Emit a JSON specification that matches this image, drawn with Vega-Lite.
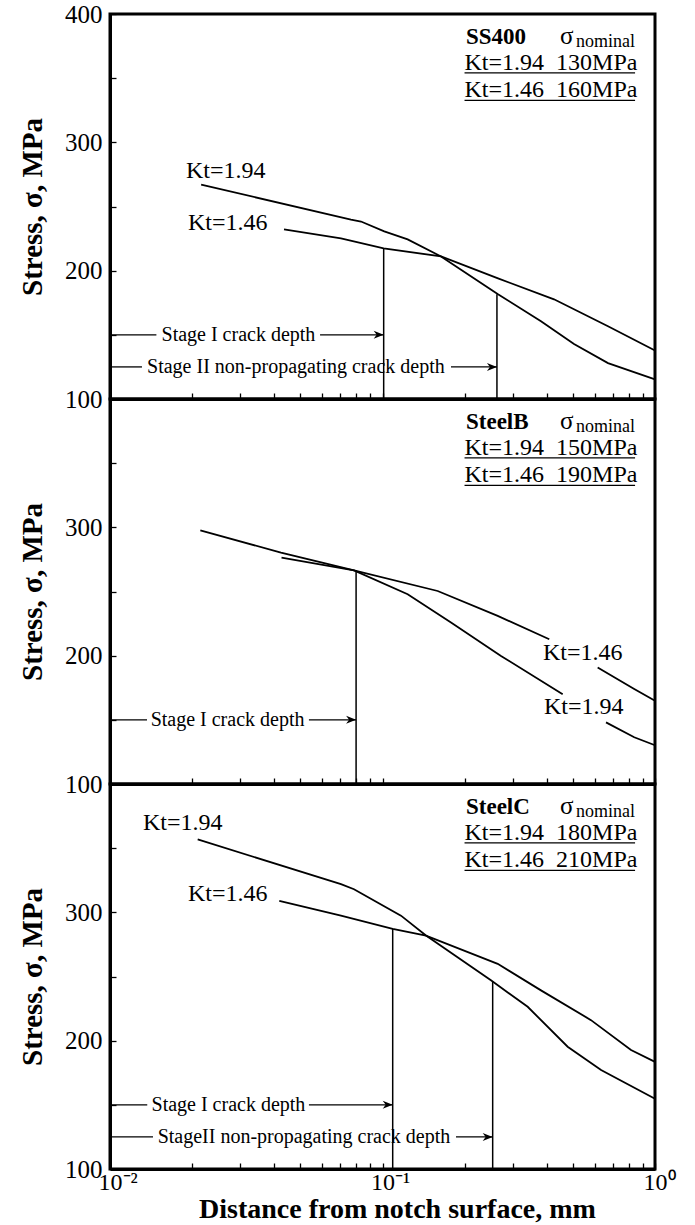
{
  "$schema": "https://vega.github.io/schema/vega-lite/v6.json",
  "background": "white",
  "padding": {"left": 17, "top": 0, "right": 5, "bottom": 0},
  "bounds": "flush",
  "spacing": 0,
  "config": {
    "font": "Liberation Serif",
    "view": {"stroke": "black", "strokeWidth": 3},
    "axis": {"grid": false, "domainColor": "black", "domainWidth": 3, "tickColor": "black", "tickWidth": 1.3, "labelColor": "black", "titleColor": "black", "labelFont": "Liberation Serif", "titleFont": "Liberation Serif", "labelOverlap": false, "labelFlush": false}
  },
  "datasets": {
    "curves": [
      {"panel": 1, "seg": "a194", "x": 0.0216, "y": 267.1},
      {"panel": 1, "seg": "a194", "x": 0.0766, "y": 239.7},
      {"panel": 1, "seg": "a194", "x": 0.0834, "y": 238.3},
      {"panel": 1, "seg": "a194", "x": 0.1015, "y": 230.6},
      {"panel": 1, "seg": "a194", "x": 0.1237, "y": 224.4},
      {"panel": 1, "seg": "a194", "x": 0.164, "y": 211.1},
      {"panel": 1, "seg": "a194", "x": 0.2654, "y": 181.6},
      {"panel": 1, "seg": "a194", "x": 0.3816, "y": 160.6},
      {"panel": 1, "seg": "a194", "x": 0.5044, "y": 142.8},
      {"panel": 1, "seg": "a194", "x": 0.6722, "y": 128},
      {"panel": 1, "seg": "a194", "x": 1.0, "y": 115.3},
      {"panel": 1, "seg": "a146", "x": 0.0435, "y": 232.1},
      {"panel": 1, "seg": "a146", "x": 0.0704, "y": 225.1},
      {"panel": 1, "seg": "a146", "x": 0.101, "y": 217.4},
      {"panel": 1, "seg": "a146", "x": 0.164, "y": 211.1},
      {"panel": 1, "seg": "a146", "x": 0.2654, "y": 194},
      {"panel": 1, "seg": "a146", "x": 0.426, "y": 177.7},
      {"panel": 1, "seg": "a146", "x": 0.6722, "y": 156.7},
      {"panel": 1, "seg": "a146", "x": 1.0, "y": 137.8},
      {"panel": 2, "seg": "a194", "x": 0.02145, "y": 297.7},
      {"panel": 2, "seg": "a194", "x": 0.0424, "y": 280.3},
      {"panel": 2, "seg": "a194", "x": 0.0786, "y": 266.5},
      {"panel": 2, "seg": "a194", "x": 0.1237, "y": 247.9},
      {"panel": 2, "seg": "a194", "x": 0.1784, "y": 225.8},
      {"panel": 2, "seg": "a194", "x": 0.2722, "y": 199.8},
      {"panel": 2, "seg": "a194", "x": 0.4584, "y": 170},
      {"panel": 2, "seg": "b194", "x": 0.661, "y": 148},
      {"panel": 2, "seg": "b194", "x": 0.839, "y": 136.4},
      {"panel": 2, "seg": "b194", "x": 1.0, "y": 130.2},
      {"panel": 2, "seg": "a146", "x": 0.0426, "y": 276.4},
      {"panel": 2, "seg": "a146", "x": 0.0786, "y": 266.5},
      {"panel": 2, "seg": "a146", "x": 0.1594, "y": 250.4},
      {"panel": 2, "seg": "a146", "x": 0.2647, "y": 231},
      {"panel": 2, "seg": "a146", "x": 0.4093, "y": 212.8},
      {"panel": 2, "seg": "b146", "x": 0.616, "y": 190.8},
      {"panel": 2, "seg": "b146", "x": 0.839, "y": 174},
      {"panel": 2, "seg": "b146", "x": 1.0, "y": 164.8},
      {"panel": 3, "seg": "a194", "x": 0.02098, "y": 356.8},
      {"panel": 3, "seg": "a194", "x": 0.0704, "y": 322},
      {"panel": 3, "seg": "a194", "x": 0.0786, "y": 318},
      {"panel": 3, "seg": "a194", "x": 0.1169, "y": 297.4},
      {"panel": 3, "seg": "a194", "x": 0.1444, "y": 281.9},
      {"panel": 3, "seg": "a194", "x": 0.25, "y": 247},
      {"panel": 3, "seg": "a194", "x": 0.341, "y": 226.4},
      {"panel": 3, "seg": "a194", "x": 0.478, "y": 195.3},
      {"panel": 3, "seg": "a194", "x": 0.634, "y": 177.2},
      {"panel": 3, "seg": "a194", "x": 1.0, "y": 154.8},
      {"panel": 3, "seg": "a146", "x": 0.0418, "y": 309},
      {"panel": 3, "seg": "a146", "x": 0.0704, "y": 297.4},
      {"panel": 3, "seg": "a146", "x": 0.109, "y": 287.1},
      {"panel": 3, "seg": "a146", "x": 0.1444, "y": 281.9},
      {"panel": 3, "seg": "a146", "x": 0.2647, "y": 259.9},
      {"panel": 3, "seg": "a146", "x": 0.3816, "y": 239.2},
      {"panel": 3, "seg": "a146", "x": 0.5823, "y": 216},
      {"panel": 3, "seg": "a146", "x": 0.8166, "y": 192.7},
      {"panel": 3, "seg": "a146", "x": 1.0, "y": 183.5}
    ],
    "hrules": [
      {"panel": 1, "x": 0.01, "x2": 0.0148, "y": 150},
      {"panel": 1, "x": 0.059, "x2": 0.101, "y": 150},
      {"panel": 1, "x": 0.01, "x2": 0.0131, "y": 125},
      {"panel": 1, "x": 0.1784, "x2": 0.263, "y": 125},
      {"panel": 2, "x": 0.01, "x2": 0.01367, "y": 150},
      {"panel": 2, "x": 0.0537, "x2": 0.08, "y": 150},
      {"panel": 3, "x": 0.01, "x2": 0.0137, "y": 150},
      {"panel": 3, "x": 0.0537, "x2": 0.109, "y": 150},
      {"panel": 3, "x": 0.01, "x2": 0.01438, "y": 125},
      {"panel": 3, "x": 0.1861, "x2": 0.2537, "y": 125}
    ],
    "vrules": [
      {"panel": 1, "x": 0.101, "y": 100, "y2": 217.4},
      {"panel": 1, "x": 0.263, "y": 100, "y2": 181.6},
      {"panel": 2, "x": 0.08, "y": 100, "y2": 266.5},
      {"panel": 3, "x": 0.109, "y": 100, "y2": 287.1},
      {"panel": 3, "x": 0.2537, "y": 100, "y2": 246}
    ],
    "arrows": [
      {"panel": 1, "x": 0.101, "y": 150},
      {"panel": 1, "x": 0.263, "y": 125},
      {"panel": 2, "x": 0.08, "y": 150},
      {"panel": 3, "x": 0.109, "y": 150},
      {"panel": 3, "x": 0.2537, "y": 125}
    ],
    "ktlabels": [
      {"panel": 1, "x": 0.019, "y": 278, "text": "Kt=1.94"},
      {"panel": 1, "x": 0.01933, "y": 236.8, "text": "Kt=1.46"},
      {"panel": 2, "x": 0.388, "y": 202.3, "text": "Kt=1.46"},
      {"panel": 2, "x": 0.3914, "y": 159.7, "text": "Kt=1.94"},
      {"panel": 3, "x": 0.01322, "y": 369.5, "text": "Kt=1.94"},
      {"panel": 3, "x": 0.01933, "y": 314.2, "text": "Kt=1.46"}
    ],
    "stagelabels": [
      {"panel": 1, "x": 0.0296, "y": 150, "text": "Stage I crack depth"},
      {"panel": 1, "x": 0.0481, "y": 125, "text": "Stage II non-propagating crack depth"},
      {"panel": 2, "x": 0.027, "y": 150, "text": "Stage I crack depth"},
      {"panel": 3, "x": 0.0272, "y": 150, "text": "Stage I crack depth"},
      {"panel": 3, "x": 0.0515, "y": 125, "text": "StageII non-propagating crack depth"}
    ],
    "legend": [
      {"panel": 1, "name": "SS400", "l2": "Kt=1.94\u00a0 130MPa", "l3": "Kt=1.46\u00a0 160MPa"},
      {"panel": 2, "name": "SteelB", "l2": "Kt=1.94\u00a0 150MPa", "l3": "Kt=1.46\u00a0 190MPa"},
      {"panel": 3, "name": "SteelC", "l2": "Kt=1.94\u00a0 180MPa", "l3": "Kt=1.46\u00a0 210MPa"}
    ]
  },
  "vconcat": [
    {
      "width": 545, "height": 385,
      "layer": [
        {"data": {"name": "curves"}, "transform": [{"filter": "datum.panel == 1"}],
         "mark": {"type": "line", "color": "black", "strokeWidth": 1.8},
         "encoding": {
           "x": {"field": "x", "type": "quantitative", "scale": {"type": "log", "domain": [0.01, 1], "nice": false},
                 "axis": {"title": null, "labels": false, "tickSize": -6, "values": [0.01,0.02,0.03,0.04,0.05,0.06,0.07,0.08,0.09,0.1,0.2,0.3,0.4,0.5,0.6,0.7,0.8,0.9,1]}},
           "y": {"field": "y", "type": "quantitative", "scale": {"domain": [100, 400], "nice": false, "zero": false},
                 "axis": {"title": "Stress, σ, MPa", "titleFontSize": 29, "titleFontWeight": "bold", "titlePadding": 17, "labelFontSize": 25, "labelPadding": 14, "tickSize": -6, "values": [100,150,200,250,300,350,400], "labelExpr": "datum.value % 100 == 0 ? datum.label : ''"}},
           "detail": {"field": "seg"}
         }},
        {"data": {"name": "hrules"}, "transform": [{"filter": "datum.panel == 1"}],
         "mark": {"type": "rule", "color": "black", "strokeWidth": 1.3},
         "encoding": {"x": {"field": "x", "type": "quantitative"}, "x2": {"field": "x2"}, "y": {"field": "y", "type": "quantitative"}}},
        {"data": {"name": "vrules"}, "transform": [{"filter": "datum.panel == 1"}],
         "mark": {"type": "rule", "color": "black", "strokeWidth": 1.5},
         "encoding": {"x": {"field": "x", "type": "quantitative"}, "y": {"field": "y", "type": "quantitative"}, "y2": {"field": "y2"}}},
        {"data": {"name": "arrows"}, "transform": [{"filter": "datum.panel == 1"}],
         "mark": {"type": "point", "shape": "M 0 0 L -1 -0.4 L -0.7 0 L -1 0.4 Z", "size": 400, "filled": true, "color": "black", "opacity": 1},
         "encoding": {"x": {"field": "x", "type": "quantitative"}, "y": {"field": "y", "type": "quantitative"}}},
        {"data": {"name": "ktlabels"}, "transform": [{"filter": "datum.panel == 1"}],
         "mark": {"type": "text", "align": "left", "baseline": "middle", "fontSize": 24, "color": "black"},
         "encoding": {"x": {"field": "x", "type": "quantitative"}, "y": {"field": "y", "type": "quantitative"}, "text": {"field": "text"}}},
        {"data": {"name": "stagelabels"}, "transform": [{"filter": "datum.panel == 1"}],
         "mark": {"type": "text", "align": "center", "baseline": "middle", "fontSize": 20, "color": "black"},
         "encoding": {"x": {"field": "x", "type": "quantitative"}, "y": {"field": "y", "type": "quantitative"}, "text": {"field": "text"}}},
        {"data": {"name": "legend"}, "transform": [{"filter": "datum.panel == 1"}],
         "layer": [
           {"mark": {"type": "text", "align": "left", "baseline": "alphabetic", "fontSize": 23, "fontWeight": "bold", "color": "black"},
            "encoding": {"x": {"datum": 0.2025, "type": "quantitative"}, "y": {"datum": 377, "type": "quantitative"}, "text": {"field": "name"}}},
           {"mark": {"type": "text", "align": "left", "baseline": "alphabetic", "fontSize": 25, "color": "black", "text": "σ"},
            "encoding": {"x": {"datum": 0.448, "type": "quantitative"}, "y": {"datum": 377, "type": "quantitative"}}},
           {"mark": {"type": "text", "align": "left", "baseline": "alphabetic", "fontSize": 18, "color": "black", "text": "nominal"},
            "encoding": {"x": {"datum": 0.513, "type": "quantitative"}, "y": {"datum": 374.4, "type": "quantitative"}}},
           {"mark": {"type": "text", "align": "left", "baseline": "alphabetic", "fontSize": 24, "color": "black"},
            "encoding": {"x": {"datum": 0.2, "type": "quantitative"}, "y": {"datum": 356.5, "type": "quantitative"}, "text": {"field": "l2"}}},
           {"mark": {"type": "text", "align": "left", "baseline": "alphabetic", "fontSize": 24, "color": "black"},
            "encoding": {"x": {"datum": 0.2, "type": "quantitative"}, "y": {"datum": 335, "type": "quantitative"}, "text": {"field": "l3"}}},
           {"mark": {"type": "rule", "color": "black", "strokeWidth": 1.3},
            "encoding": {"x": {"datum": 0.2, "type": "quantitative"}, "x2": {"datum": 0.845}, "y": {"datum": 354.2, "type": "quantitative"}}},
           {"mark": {"type": "rule", "color": "black", "strokeWidth": 1.3},
            "encoding": {"x": {"datum": 0.2, "type": "quantitative"}, "x2": {"datum": 0.845}, "y": {"datum": 332.7, "type": "quantitative"}}}
         ]}
      ]
    },
    {
      "width": 545, "height": 385,
      "layer": [
        {"data": {"name": "curves"}, "transform": [{"filter": "datum.panel == 2"}],
         "mark": {"type": "line", "color": "black", "strokeWidth": 1.8},
         "encoding": {
           "x": {"field": "x", "type": "quantitative", "scale": {"type": "log", "domain": [0.01, 1], "nice": false},
                 "axis": {"title": null, "labels": false, "tickSize": -6, "values": [0.01,0.02,0.03,0.04,0.05,0.06,0.07,0.08,0.09,0.1,0.2,0.3,0.4,0.5,0.6,0.7,0.8,0.9,1]}},
           "y": {"field": "y", "type": "quantitative", "scale": {"domain": [100, 400], "nice": false, "zero": false},
                 "axis": {"title": "Stress, σ, MPa", "titleFontSize": 29, "titleFontWeight": "bold", "titlePadding": 17, "labelFontSize": 25, "labelPadding": 14, "tickSize": -6, "values": [100,150,200,250,300,350,400], "labelExpr": "datum.value % 100 == 0 && datum.value < 400 ? datum.label : ''"}},
           "detail": {"field": "seg"}
         }},
        {"data": {"name": "hrules"}, "transform": [{"filter": "datum.panel == 2"}],
         "mark": {"type": "rule", "color": "black", "strokeWidth": 1.3},
         "encoding": {"x": {"field": "x", "type": "quantitative"}, "x2": {"field": "x2"}, "y": {"field": "y", "type": "quantitative"}}},
        {"data": {"name": "vrules"}, "transform": [{"filter": "datum.panel == 2"}],
         "mark": {"type": "rule", "color": "black", "strokeWidth": 1.5},
         "encoding": {"x": {"field": "x", "type": "quantitative"}, "y": {"field": "y", "type": "quantitative"}, "y2": {"field": "y2"}}},
        {"data": {"name": "arrows"}, "transform": [{"filter": "datum.panel == 2"}],
         "mark": {"type": "point", "shape": "M 0 0 L -1 -0.4 L -0.7 0 L -1 0.4 Z", "size": 400, "filled": true, "color": "black", "opacity": 1},
         "encoding": {"x": {"field": "x", "type": "quantitative"}, "y": {"field": "y", "type": "quantitative"}}},
        {"data": {"name": "ktlabels"}, "transform": [{"filter": "datum.panel == 2"}],
         "mark": {"type": "text", "align": "left", "baseline": "middle", "fontSize": 24, "color": "black"},
         "encoding": {"x": {"field": "x", "type": "quantitative"}, "y": {"field": "y", "type": "quantitative"}, "text": {"field": "text"}}},
        {"data": {"name": "stagelabels"}, "transform": [{"filter": "datum.panel == 2"}],
         "mark": {"type": "text", "align": "center", "baseline": "middle", "fontSize": 20, "color": "black"},
         "encoding": {"x": {"field": "x", "type": "quantitative"}, "y": {"field": "y", "type": "quantitative"}, "text": {"field": "text"}}},
        {"data": {"name": "legend"}, "transform": [{"filter": "datum.panel == 2"}],
         "layer": [
           {"mark": {"type": "text", "align": "left", "baseline": "alphabetic", "fontSize": 23, "fontWeight": "bold", "color": "black"},
            "encoding": {"x": {"datum": 0.2025, "type": "quantitative"}, "y": {"datum": 377, "type": "quantitative"}, "text": {"field": "name"}}},
           {"mark": {"type": "text", "align": "left", "baseline": "alphabetic", "fontSize": 25, "color": "black", "text": "σ"},
            "encoding": {"x": {"datum": 0.448, "type": "quantitative"}, "y": {"datum": 377, "type": "quantitative"}}},
           {"mark": {"type": "text", "align": "left", "baseline": "alphabetic", "fontSize": 18, "color": "black", "text": "nominal"},
            "encoding": {"x": {"datum": 0.513, "type": "quantitative"}, "y": {"datum": 374.4, "type": "quantitative"}}},
           {"mark": {"type": "text", "align": "left", "baseline": "alphabetic", "fontSize": 24, "color": "black"},
            "encoding": {"x": {"datum": 0.2, "type": "quantitative"}, "y": {"datum": 356.5, "type": "quantitative"}, "text": {"field": "l2"}}},
           {"mark": {"type": "text", "align": "left", "baseline": "alphabetic", "fontSize": 24, "color": "black"},
            "encoding": {"x": {"datum": 0.2, "type": "quantitative"}, "y": {"datum": 335, "type": "quantitative"}, "text": {"field": "l3"}}},
           {"mark": {"type": "rule", "color": "black", "strokeWidth": 1.3},
            "encoding": {"x": {"datum": 0.2, "type": "quantitative"}, "x2": {"datum": 0.845}, "y": {"datum": 354.2, "type": "quantitative"}}},
           {"mark": {"type": "rule", "color": "black", "strokeWidth": 1.3},
            "encoding": {"x": {"datum": 0.2, "type": "quantitative"}, "x2": {"datum": 0.845}, "y": {"datum": 332.7, "type": "quantitative"}}}
         ]}
      ]
    },
    {
      "width": 545, "height": 385,
      "layer": [
        {"data": {"name": "curves"}, "transform": [{"filter": "datum.panel == 3"}],
         "mark": {"type": "line", "color": "black", "strokeWidth": 1.8},
         "encoding": {
           "x": {"field": "x", "type": "quantitative", "scale": {"type": "log", "domain": [0.01, 1], "nice": false},
                 "axis": {"title": "Distance from notch surface, mm", "titleFontSize": 28, "titleFontWeight": "bold", "titleX": 287, "titleY": 48, "titleBaseline": "alphabetic", "labelFontSize": 24, "labelPadding": 7, "labelAlign": "left", "labelOffset": -12, "tickSize": -6,
                          "values": [0.01,0.02,0.03,0.04,0.05,0.06,0.07,0.08,0.09,0.1,0.2,0.3,0.4,0.5,0.6,0.7,0.8,0.9,1],
                          "labelExpr": "abs(datum.value - 0.01) < 1e-9 ? '10⁻²' : abs(datum.value - 0.1) < 1e-9 ? '10⁻¹' : abs(datum.value - 1) < 1e-9 ? '10⁰' : ''"}},
           "y": {"field": "y", "type": "quantitative", "scale": {"domain": [100, 400], "nice": false, "zero": false},
                 "axis": {"title": "Stress, σ, MPa", "titleFontSize": 29, "titleFontWeight": "bold", "titlePadding": 17, "labelFontSize": 25, "labelPadding": 14, "tickSize": -6, "values": [100,150,200,250,300,350,400], "labelExpr": "datum.value % 100 == 0 && datum.value < 400 ? datum.label : ''"}},
           "detail": {"field": "seg"}
         }},
        {"data": {"name": "hrules"}, "transform": [{"filter": "datum.panel == 3"}],
         "mark": {"type": "rule", "color": "black", "strokeWidth": 1.3},
         "encoding": {"x": {"field": "x", "type": "quantitative"}, "x2": {"field": "x2"}, "y": {"field": "y", "type": "quantitative"}}},
        {"data": {"name": "vrules"}, "transform": [{"filter": "datum.panel == 3"}],
         "mark": {"type": "rule", "color": "black", "strokeWidth": 1.5},
         "encoding": {"x": {"field": "x", "type": "quantitative"}, "y": {"field": "y", "type": "quantitative"}, "y2": {"field": "y2"}}},
        {"data": {"name": "arrows"}, "transform": [{"filter": "datum.panel == 3"}],
         "mark": {"type": "point", "shape": "M 0 0 L -1 -0.4 L -0.7 0 L -1 0.4 Z", "size": 400, "filled": true, "color": "black", "opacity": 1},
         "encoding": {"x": {"field": "x", "type": "quantitative"}, "y": {"field": "y", "type": "quantitative"}}},
        {"data": {"name": "ktlabels"}, "transform": [{"filter": "datum.panel == 3"}],
         "mark": {"type": "text", "align": "left", "baseline": "middle", "fontSize": 24, "color": "black"},
         "encoding": {"x": {"field": "x", "type": "quantitative"}, "y": {"field": "y", "type": "quantitative"}, "text": {"field": "text"}}},
        {"data": {"name": "stagelabels"}, "transform": [{"filter": "datum.panel == 3"}],
         "mark": {"type": "text", "align": "center", "baseline": "middle", "fontSize": 20, "color": "black"},
         "encoding": {"x": {"field": "x", "type": "quantitative"}, "y": {"field": "y", "type": "quantitative"}, "text": {"field": "text"}}},
        {"data": {"name": "legend"}, "transform": [{"filter": "datum.panel == 3"}],
         "layer": [
           {"mark": {"type": "text", "align": "left", "baseline": "alphabetic", "fontSize": 23, "fontWeight": "bold", "color": "black"},
            "encoding": {"x": {"datum": 0.2025, "type": "quantitative"}, "y": {"datum": 377, "type": "quantitative"}, "text": {"field": "name"}}},
           {"mark": {"type": "text", "align": "left", "baseline": "alphabetic", "fontSize": 25, "color": "black", "text": "σ"},
            "encoding": {"x": {"datum": 0.448, "type": "quantitative"}, "y": {"datum": 377, "type": "quantitative"}}},
           {"mark": {"type": "text", "align": "left", "baseline": "alphabetic", "fontSize": 18, "color": "black", "text": "nominal"},
            "encoding": {"x": {"datum": 0.513, "type": "quantitative"}, "y": {"datum": 374.4, "type": "quantitative"}}},
           {"mark": {"type": "text", "align": "left", "baseline": "alphabetic", "fontSize": 24, "color": "black"},
            "encoding": {"x": {"datum": 0.2, "type": "quantitative"}, "y": {"datum": 356.5, "type": "quantitative"}, "text": {"field": "l2"}}},
           {"mark": {"type": "text", "align": "left", "baseline": "alphabetic", "fontSize": 24, "color": "black"},
            "encoding": {"x": {"datum": 0.2, "type": "quantitative"}, "y": {"datum": 335, "type": "quantitative"}, "text": {"field": "l3"}}},
           {"mark": {"type": "rule", "color": "black", "strokeWidth": 1.3},
            "encoding": {"x": {"datum": 0.2, "type": "quantitative"}, "x2": {"datum": 0.845}, "y": {"datum": 354.2, "type": "quantitative"}}},
           {"mark": {"type": "rule", "color": "black", "strokeWidth": 1.3},
            "encoding": {"x": {"datum": 0.2, "type": "quantitative"}, "x2": {"datum": 0.845}, "y": {"datum": 332.7, "type": "quantitative"}}}
         ]}
      ]
    }
  ]
}
